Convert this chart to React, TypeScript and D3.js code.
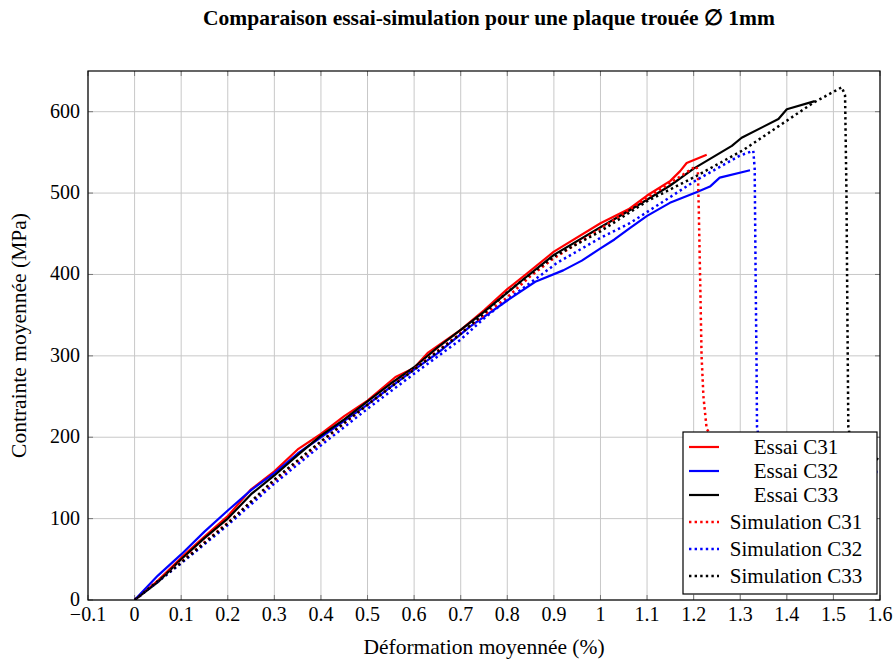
import React from "react";
import * as d3 from "d3";

const title = "Comparaison essai-simulation pour une plaque trouée ∅ 1mm";
const xLabel = "Déformation moyennée (%)";
const yLabel = "Contrainte moyennée (MPa)";
const xTicks = [-0.1, 0, 0.1, 0.2, 0.3, 0.4, 0.5, 0.6, 0.7, 0.8, 0.9, 1, 1.1, 1.2, 1.3, 1.4, 1.5, 1.6];
const yTicks = [0, 100, 200, 300, 400, 500, 600];

const essaiC31: [number, number][] = [[0,0],[0.05,24],[0.1,52],[0.15,78],[0.2,103],[0.25,136],[0.3,158],[0.35,185],[0.4,204],[0.45,226],[0.5,245],[0.56,274],[0.6,285],[0.63,304],[0.7,332],[0.75,356],[0.8,382],[0.84,400],[0.9,428],[1.0,463],[1.06,480],[1.1,497],[1.15,515],[1.171,527],[1.185,537],[1.228,547]];
const essaiC32: [number, number][] = [[0,0],[0.05,30],[0.1,56],[0.15,84],[0.2,110],[0.25,135],[0.3,156],[0.35,180],[0.4,200],[0.45,220],[0.5,240],[0.55,262],[0.6,283],[0.65,303],[0.72,336],[0.8,368],[0.86,391],[0.92,405],[0.96,417],[1.0,432],[1.03,443],[1.063,457],[1.1,472],[1.149,488],[1.206,501],[1.235,508],[1.256,519],[1.321,528]];
const essaiC33: [number, number][] = [[0,0],[0.05,22],[0.1,50],[0.15,76],[0.2,100],[0.25,130],[0.3,153],[0.35,178],[0.4,202],[0.45,222],[0.5,244],[0.55,266],[0.6,286],[0.65,310],[0.7,332],[0.75,354],[0.83,392],[0.9,424],[1.0,458],[1.06,478],[1.149,509],[1.2,530],[1.282,558],[1.303,568],[1.382,591],[1.4,603],[1.46,613]];
const simC31: [number, number][] = [[0,0],[0.1,47],[0.2,95],[0.3,146],[0.4,194],[0.5,240],[0.6,284],[0.7,328],[0.8,372],[0.85,398],[0.9,420],[1.0,456],[1.1,494],[1.205,533],[1.209,528],[1.211,480],[1.214,393],[1.217,300],[1.221,250],[1.228,210],[1.25,195],[1.35,188],[1.65,180]];
const simC32: [number, number][] = [[0,0],[0.1,45],[0.2,92],[0.3,143],[0.4,190],[0.5,235],[0.6,278],[0.7,320],[0.75,346],[0.8,369],[0.874,400],[0.906,414],[1.0,445],[1.063,463],[1.206,516],[1.299,546],[1.328,552],[1.331,530],[1.333,400],[1.335,290],[1.336,213],[1.345,180],[1.4,165],[1.65,155]];
const simC33: [number, number][] = [[0,0],[0.1,46],[0.2,94],[0.3,148],[0.4,195],[0.5,240],[0.6,283],[0.7,327],[0.8,378],[0.844,398],[0.9,422],[1.0,453],[1.1,490],[1.206,521],[1.307,553],[1.457,611],[1.518,630],[1.525,620],[1.528,500],[1.53,350],[1.532,213],[1.54,185],[1.6,172],[1.65,170]];

const seriesNames = ["Essai C31", "Essai C32", "Essai C33", "Simulation C31", "Simulation C32", "Simulation C33"];
const seriesData = [essaiC31, essaiC32, essaiC33, simC31, simC32, simC33];
const seriesColors = ["#ff0000", "#0000ff", "#000000", "#ff0000", "#0000ff", "#000000"];
const seriesDotted = [false, false, false, true, true, true];

const W = 896, H = 659;
const L = 88, R = 880, T = 71, B = 600;
const FONT = "'Liberation Serif', 'Times New Roman', serif";

export default function App() {
  const x = d3.scaleLinear().domain([-0.1, 1.6]).range([L, R]);
  const y = d3.scaleLinear().domain([0, 650]).range([B, T]);
  const line = d3.line<[number, number]>().x(d => x(d[0])).y(d => y(d[1]));
  const fmt = (v: number) => (v < 0 ? "−" + String(-v) : String(v));

  const legX = 683, legY = 432, legW = 194, legH = 162;
  const rowY = [447, 471, 495, 522, 549, 576];

  return (
    <svg width={W} height={H} style={{ position: "absolute", left: 0, top: 0, background: "#fff" }} fontFamily={FONT}>
      <defs>
        <clipPath id="plotclip"><rect x={L} y={T} width={R - L} height={B - T} /></clipPath>
      </defs>
      <rect x={0} y={0} width={W} height={H} fill="#fff" />
      {xTicks.map(t => (
        <line key={"gx" + t} x1={x(t)} x2={x(t)} y1={T} y2={B} stroke="#c8c8c8" strokeWidth={1} />
      ))}
      {yTicks.map(t => (
        <line key={"gy" + t} x1={L} x2={R} y1={y(t)} y2={y(t)} stroke="#c8c8c8" strokeWidth={1} />
      ))}
      {xTicks.map(t => (
        <g key={"tx" + t}>
          <line x1={x(t)} x2={x(t)} y1={B} y2={B - 5} stroke="#777" />
          <line x1={x(t)} x2={x(t)} y1={T} y2={T + 5} stroke="#777" />
        </g>
      ))}
      {yTicks.map(t => (
        <g key={"ty" + t}>
          <line x1={L} x2={L + 5} y1={y(t)} y2={y(t)} stroke="#777" />
          <line x1={R} x2={R - 5} y1={y(t)} y2={y(t)} stroke="#777" />
        </g>
      ))}
      <g clipPath="url(#plotclip)">
        {seriesData.map((d, i) => (
          <path key={seriesNames[i]} d={line(d) || ""} fill="none" stroke={seriesColors[i]}
            strokeWidth={seriesDotted[i] ? 2.5 : 2.2} strokeDasharray={seriesDotted[i] ? "2.4 3.2" : undefined}
            strokeLinejoin="round" />
        ))}
      </g>
      <rect x={L} y={T} width={R - L} height={B - T} fill="none" stroke="#000" strokeWidth={1.2} />
      {xTicks.map(t => (
        <text key={"lx" + t} x={x(t)} y={621} textAnchor="middle" fontSize={20}>{fmt(t)}</text>
      ))}
      {yTicks.map(t => (
        <text key={"ly" + t} x={80} y={y(t) + 6} textAnchor="end" fontSize={20}>{fmt(t)}</text>
      ))}
      <text x={484} y={654} textAnchor="middle" fontSize={21.5}>{xLabel}</text>
      <text transform={`translate(26, ${(T + B) / 2}) rotate(-90)`} textAnchor="middle" fontSize={21.5}>{yLabel}</text>
      <text x={489} y={25} textAnchor="middle" fontSize={21.5} fontWeight="bold">{title}</text>
      <rect x={legX} y={legY} width={legW} height={legH} fill="#fff" stroke="#000" strokeWidth={1.2} />
      {seriesNames.map((n, i) => (
        <g key={"leg" + n}>
          <line x1={689} x2={719} y1={rowY[i]} y2={rowY[i]} stroke={seriesColors[i]}
            strokeWidth={seriesDotted[i] ? 2.5 : 2.2} strokeDasharray={seriesDotted[i] ? "2.4 3.2" : undefined} />
          <text x={796} y={rowY[i] + 7} textAnchor="middle" fontSize={21}>{n}</text>
        </g>
      ))}
    </svg>
  );
}
